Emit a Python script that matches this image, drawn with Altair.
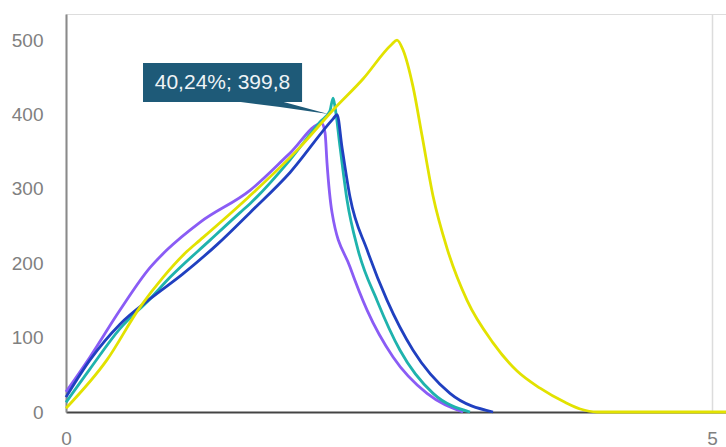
import altair as alt
import pandas as pd

# ---- data ----
yellow_x = [0, 0.317, 0.573, 0.751, 0.937, 1.037, 1.401, 1.811, 2.067, 2.30, 2.52, 2.562, 2.608, 2.686, 2.755, 2.841, 2.949, 3.104, 3.305, 3.491, 3.669, 3.862, 3.98, 4.11, 5.108]
yellow_y = [5, 70, 141, 181, 216, 231, 287, 356, 406, 448, 494, 500, 487, 437, 372, 290, 220, 150, 93, 55, 32, 13, 4, 0, 0]

teal_x = [0, 0.186, 0.418, 0.65, 0.805, 1.115, 1.347, 1.424, 1.734, 1.966, 2.043, 2.067, 2.082, 2.121, 2.175, 2.26, 2.407, 2.585, 2.841, 3.127]
teal_y = [13, 58, 112, 152, 181, 231, 268, 280, 339, 390, 405, 422, 410, 356, 285, 218, 150, 83, 25, 0]

blue_x = [0, 0.186, 0.418, 0.65, 0.9, 1.169, 1.424, 1.734, 2.067, 2.098, 2.136, 2.198, 2.33, 2.485, 2.686, 2.972, 3.305]
blue_y = [20, 70, 118, 152, 185, 225, 268, 322, 394, 399.8, 356, 289, 218, 150, 83, 25, 0]

purple_x = [0, 0.186, 0.418, 0.65, 0.782, 1.037, 1.424, 1.734, 1.981, 2.005, 2.02, 2.059, 2.198, 2.33, 2.531, 2.794, 3.073]
purple_y = [27, 74, 137, 194, 218, 255, 298, 348, 388, 375, 335, 268, 195, 137, 74, 25, 0]

series_names = ["Probe 1", "Probe 2", "Probe 3", "Probe 4"]
series_colors = ["#8a5cf5", "#1fb3ad", "#2040c0", "#e2e200"]

x_ticks = [0, 5]
y_ticks = [0, 100, 200, 300, 400, 500]

label_text = "40,24%; 399,8"

# ---- build table ----
rows = []
for name, xs, ys in zip(series_names, [purple_x, teal_x, blue_x, yellow_x],
                        [purple_y, teal_y, blue_y, yellow_y]):
    for i, (a, b) in enumerate(zip(xs, ys)):
        rows.append({"series": name, "x": a, "y": b, "i": i})
df = pd.DataFrame(rows)

font = "Liberation Sans"
xscale = alt.Scale(domain=[0, 5.108], nice=False, zero=False)
yscale = alt.Scale(domain=[0, 535], nice=False)

lines = alt.Chart(df).mark_line(strokeWidth=2.8, interpolate="monotone").encode(
    x=alt.X("x:Q", scale=xscale,
            axis=alt.Axis(values=x_ticks, format="d", title=None, grid=True, gridColor="#dcdcdc",
                          gridWidth=1.5, domainColor="#444444", domainWidth=2,
                          ticks=False, labelPadding=17, labelFontSize=19,
                          labelColor="#808080", labelFont=font, labelFlush=False)),
    y=alt.Y("y:Q", scale=yscale,
            axis=alt.Axis(values=y_ticks, format="d", title=None, grid=False,
                          domainColor="#8a8a8a", domainWidth=2, ticks=False,
                          labelPadding=23, labelFontSize=19, labelColor="#808080",
                          labelFont=font)),
    color=alt.Color("series:N", scale=alt.Scale(domain=series_names, range=series_colors), legend=None),
    order="i:Q",
    detail="series:N",
)

# annotation box (data units)
box = pd.DataFrame({"x": [0.596], "x2": [1.827], "y": [416.7], "y2": [469]})
box_mark = alt.Chart(box).mark_rect(color="#1e5a78").encode(
    x="x:Q", x2="x2:Q", y="y:Q", y2="y2:Q")

wedge = pd.DataFrame({"x": [1.293, 1.656, 2.03], "top": [418, 418, 400.5], "bot": [418, 410, 400.5]})
wedge_mark = alt.Chart(wedge).mark_area(color="#1e5a78").encode(
    x="x:Q", y="top:Q", y2="bot:Q")

txt = pd.DataFrame({"x": [1.211], "y": [442.5], "t": [label_text]})
txt_mark = alt.Chart(txt).mark_text(color="#eef3f6", fontSize=21, font=font,
                                    align="center", baseline="middle").encode(
    x="x:Q", y="y:Q", text="t:N")

chart = alt.layer(lines, wedge_mark, box_mark, txt_mark).properties(
    width=660, height=398,
    autosize=alt.AutoSizeParams(type="none"),
    padding={"left": 66, "top": 14, "right": 0, "bottom": 35},
).configure_view(stroke=None).configure(background="white")

chart.save("out.html", embed_options={"renderer": "svg", "actions": False})
